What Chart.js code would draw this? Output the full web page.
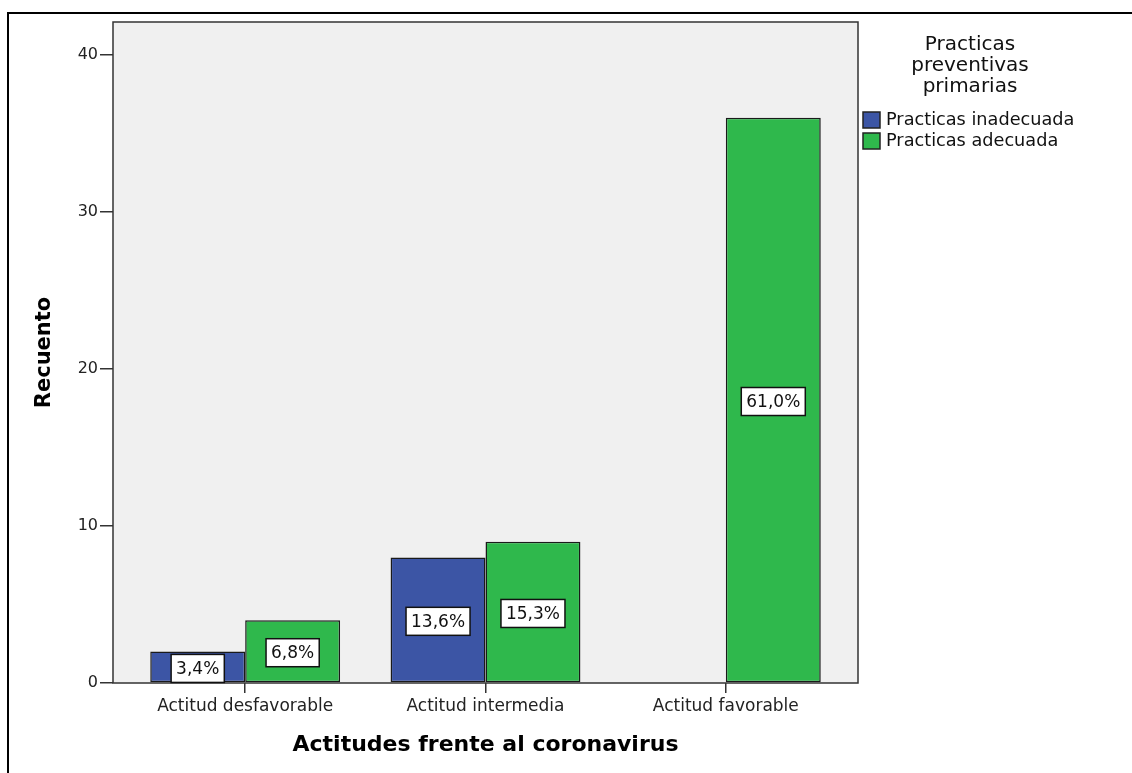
<!DOCTYPE html>
<html>
<head>
<meta charset="utf-8">
<script src="https://cdn.jsdelivr.net/npm/chart.js@4.4.0/dist/chart.umd.min.js"></script>
<style>
  html, body { margin: 0; padding: 0; background: #fff; }
  #wrap { width: 1132px; height: 773px; position: relative; }
</style>
</head>
<body>
<div id="wrap"><canvas id="c" width="1132" height="773"></canvas></div>
<script>
// ---- data ----
const categories = ["Actitud desfavorable", "Actitud intermedia", "Actitud favorable"];
const inadecuada = [2, 8, 0];
const adecuada = [4, 9, 36];
const inadecuadaPct = ["3,4%", "13,6%", ""];
const adecuadaPct = ["6,8%", "15,3%", "61,0%"];
const yTicks = [0, 10, 20, 30, 40];
const seriesNames = ["Practicas inadecuada", "Practicas adecuada"];
const legendTitle = ["Practicas", "preventivas", "primarias"];
const xTitle = "Actitudes frente al coronavirus";
const yTitle = "Recuento";

const FONT = "'DejaVu Sans', Verdana, sans-serif";
const BLUE = "#3c55a5";
const GREEN = "#2fb84c";

const framePlugin = {
  id: 'frame',
  beforeDraw(chart) {
    const ctx = chart.ctx, a = chart.chartArea;
    ctx.save();
    ctx.fillStyle = '#fff';
    ctx.fillRect(0, 0, chart.width, chart.height);
    ctx.strokeStyle = '#000';
    ctx.lineWidth = 2;
    ctx.strokeRect(8, 13, 1200, 900);
    ctx.fillStyle = '#f0f0f0';
    ctx.fillRect(a.left, a.top, a.right - a.left, a.bottom - a.top);
    ctx.restore();
  },
  afterDatasetsDraw(chart) {
    const ctx = chart.ctx, a = chart.chartArea;
    ctx.save();
    // plot frame
    ctx.strokeStyle = '#333';
    ctx.lineWidth = 1.5;
    ctx.strokeRect(a.left, a.top, a.right - a.left, a.bottom - a.top);
    // value labels
    const pcts = [inadecuadaPct, adecuadaPct];
    ctx.font = "17px " + FONT;
    ctx.textAlign = 'center';
    ctx.textBaseline = 'middle';
    chart.data.datasets.forEach((ds, di) => {
      const meta = chart.getDatasetMeta(di);
      meta.data.forEach((bar, i) => {
        const txt = pcts[di][i];
        if (!txt) return;
        const cy = (bar.y + bar.base) / 2 + 1.5;
        const w = ctx.measureText(txt).width + 10;
        const h = 28;
        ctx.fillStyle = '#fff';
        ctx.fillRect(bar.x - w / 2, cy - h / 2, w, h);
        ctx.strokeStyle = '#111';
        ctx.lineWidth = 1.5;
        ctx.strokeRect(bar.x - w / 2, cy - h / 2, w, h);
        ctx.fillStyle = '#111';
        ctx.fillText(txt, bar.x, cy + 1);
      });
    });
    // axis titles
    ctx.fillStyle = '#000';
    ctx.font = "bold 22px " + FONT;
    ctx.fillText(xTitle, (a.left + a.right) / 2, 745);
    ctx.save();
    ctx.translate(45, (a.top + a.bottom) / 2);
    ctx.rotate(-Math.PI / 2);
    ctx.font = "bold 21px " + FONT;
    ctx.fillText(yTitle, 0, 0);
    ctx.restore();
    // legend
    ctx.fillStyle = '#111';
    ctx.font = "20px " + FONT;
    legendTitle.forEach((t, i) => ctx.fillText(t, 970, 45 + i * 21));
    ctx.textAlign = 'left';
    ctx.font = "17.7px " + FONT;
    chart.data.datasets.forEach((ds, i) => {
      const y = 112 + i * 21;
      ctx.fillStyle = ds.backgroundColor;
      ctx.fillRect(863, y, 17, 16);
      ctx.strokeStyle = '#222';
      ctx.lineWidth = 1.5;
      ctx.strokeRect(863, y, 17, 16);
      ctx.fillStyle = '#111';
      ctx.fillText(ds.label, 886, y + 8.5);
    });
    ctx.restore();
  }
};

new Chart(document.getElementById('c'), {
  type: 'bar',
  data: {
    datasets: [
      { label: seriesNames[0], data: categories.map((c, i) => ({ x: i, y: inadecuada[i] })),
        backgroundColor: BLUE, borderColor: '#1a1a1a', borderWidth: 1.5, borderSkipped: false },
      { label: seriesNames[1], data: categories.map((c, i) => ({ x: i, y: adecuada[i] })),
        backgroundColor: GREEN, borderColor: '#1a1a1a', borderWidth: 1.5, borderSkipped: false }
    ]
  },
  options: {
    responsive: false,
    animation: false,
    events: [],
    layout: { padding: { left: 0, top: 22, right: 274, bottom: 0 } },
    datasets: { bar: { categoryPercentage: 0.79, barPercentage: 1 } },
    plugins: { legend: { display: false }, tooltip: { enabled: false } },
    scales: {
      x: {
        type: 'linear',
        min: -0.55, max: 2.55,
        offset: false,
        afterBuildTicks(s) { s.ticks = categories.map((c, i) => ({ value: i })); },
        afterFit(s) { s.height = 90; },
        ticks: { callback: (v) => categories[v] ?? '', color: '#222', font: { family: FONT, size: 17 }, padding: 3, maxRotation: 0, autoSkip: false },
        grid: { offset: false, drawOnChartArea: false, drawTicks: true, tickLength: 10, color: '#333', lineWidth: 1.5 },
        border: { display: false }
      },
      y: {
        min: 0, max: 42.1,
        afterBuildTicks(s) { s.ticks = yTicks.map(v => ({ value: v })); },
        afterFit(s) { s.width = 113; },
        ticks: { color: '#222', font: { family: FONT, size: 16 }, padding: 2 },
        grid: { drawOnChartArea: false, drawTicks: true, tickLength: 13, color: '#333', lineWidth: 1.5 },
        border: { display: false }
      }
    }
  },
  plugins: [framePlugin]
});
</script>
</body>
</html>
